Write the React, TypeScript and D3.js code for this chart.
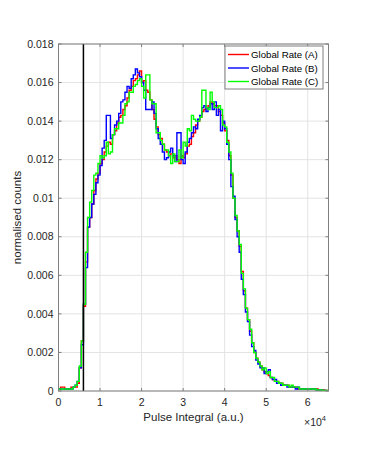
import React from "react";
import * as d3 from "d3";

const binWidth = 500;
const xMax = 65000;
const yMax = 0.018;
const thresholdX = 6000;
const seriesNames = ["Global Rate (A)", "Global Rate (B)", "Global Rate (C)"];
const seriesColors = ["#ff0000", "#0000ff", "#00ff00"];
const xTicks = [0, 1, 2, 3, 4, 5, 6];
const yTicks = [0, 0.002, 0.004, 0.006, 0.008, 0.01, 0.012, 0.014, 0.016, 0.018];
const yTickLabels = ["0", "0.002", "0.004", "0.006", "0.008", "0.01", "0.012", "0.014", "0.016", "0.018"];

const rateA = [
  0.0001, 0.0002, 0.0002, 0.0001, 0.0001, 0.0001, 0.0002, 0.0002, 0.0002, 0.0004,
  0.0012, 0.0026, 0.0044, 0.0067, 0.0085, 0.0090, 0.0097, 0.0104, 0.0110, 0.0113,
  0.0118, 0.0120, 0.0124, 0.0127, 0.0129, 0.0128, 0.0133, 0.0135, 0.0139, 0.0142,
  0.0143, 0.0146, 0.0148, 0.0152, 0.0156, 0.0158, 0.0161, 0.0162, 0.0164, 0.0166,
  0.0160, 0.0161, 0.0156, 0.0155, 0.0151, 0.0146, 0.0141, 0.0137, 0.0133, 0.0131,
  0.0128, 0.0125, 0.0124, 0.0122, 0.0123, 0.0121, 0.0122, 0.0120, 0.0118, 0.0122,
  0.0121, 0.0123, 0.0127, 0.0128, 0.0132, 0.0134, 0.0138, 0.0140, 0.0142, 0.0145,
  0.0146, 0.0147, 0.0148, 0.0150, 0.0149, 0.0148, 0.0148, 0.0145, 0.0143, 0.0139,
  0.0135, 0.0130, 0.0122, 0.0112, 0.0100, 0.0090, 0.0083, 0.0075, 0.0062, 0.0052,
  0.0043, 0.0037, 0.0031, 0.0025, 0.0020, 0.0017, 0.0015, 0.0013, 0.0011, 0.0010,
  0.0009, 0.0008, 0.0007, 0.0006, 0.0005, 0.0005, 0.0004, 0.0004, 0.0003, 0.0003,
  0.0003, 0.0002, 0.0002, 0.0002, 0.0002, 0.0001, 0.0001, 0.0001, 0.0001, 0.0001,
  0.0001, 0.0001, 0.0001, 0.0001, 0.0001, 0.00005, 0.00005, 0.00005, 0.00003, 0.00003,
];

const rateB = [
  0.0001, 0.0001, 0.0001, 0.0001, 0.0001, 0.0001, 0.0001, 0.0002, 0.0003, 0.0005,
  0.0012, 0.0024, 0.0045, 0.0064, 0.0085, 0.0090, 0.0097, 0.0102, 0.0108, 0.0112,
  0.0117, 0.0126, 0.0130, 0.0143, 0.0143, 0.0131, 0.0133, 0.0138, 0.0140, 0.0144,
  0.0150, 0.0151, 0.0155, 0.0158, 0.0157, 0.0162, 0.0164, 0.0167, 0.0165, 0.0163,
  0.0160, 0.0156, 0.0146, 0.0146, 0.0146, 0.0150, 0.0144, 0.0136, 0.0131, 0.0128,
  0.0124, 0.0120, 0.0121, 0.0124, 0.0126, 0.0122, 0.0119, 0.0134, 0.0134, 0.0120,
  0.0118, 0.0124, 0.0129, 0.0131, 0.0134, 0.0137, 0.0136, 0.0141, 0.0143, 0.0147,
  0.0148, 0.0145, 0.0147, 0.0149, 0.0146, 0.0150, 0.0143, 0.0146, 0.0135, 0.0140,
  0.0136, 0.0128, 0.0120, 0.0106, 0.0101, 0.0089, 0.0080, 0.0072, 0.0058, 0.0050,
  0.0041, 0.0036, 0.0029, 0.0023, 0.0021, 0.0016, 0.0014, 0.0012, 0.0012, 0.0009,
  0.0010, 0.0011, 0.0007, 0.0006, 0.0006, 0.0004, 0.0004, 0.0003, 0.0003, 0.0003,
  0.0002, 0.0002, 0.0002, 0.0002, 0.0001, 0.0002, 0.0001, 0.0001, 0.0001, 0.0001,
  0.0001, 0.0001, 0.0001, 0.0001, 0.00005, 0.00005, 0.00005, 0.00003, 0.00003, 0.00002,
];

const rateC = [
  0.0001, 0.0001, 0.0001, 0.0001, 0.0001, 0.0001, 0.0001, 0.0002, 0.0003, 0.0005,
  0.0013, 0.0026, 0.0045, 0.0072, 0.0090, 0.0098, 0.0104, 0.0112, 0.0113, 0.0118,
  0.0122, 0.0121, 0.0122, 0.0129, 0.0123, 0.0124, 0.0133, 0.0136, 0.0136, 0.0139,
  0.0139, 0.0143, 0.0149, 0.0150, 0.0155, 0.0155, 0.0158, 0.0159, 0.0161, 0.0162,
  0.0158, 0.0152, 0.0164, 0.0164, 0.0151, 0.0149, 0.0149, 0.0134, 0.0134, 0.0130,
  0.0128, 0.0125, 0.0125, 0.0122, 0.0118, 0.0123, 0.0119, 0.0119, 0.0125, 0.0121,
  0.0129, 0.0127, 0.0136, 0.0135, 0.0143, 0.0141, 0.0140, 0.0140, 0.0142, 0.0156,
  0.0156, 0.0147, 0.0146, 0.0155, 0.0150, 0.0147, 0.0147, 0.0148, 0.0146, 0.0138,
  0.0137, 0.0129, 0.0124, 0.0113, 0.0100, 0.0091, 0.0083, 0.0076, 0.0061, 0.0053,
  0.0043, 0.0037, 0.0032, 0.0025, 0.0020, 0.0017, 0.0015, 0.0013, 0.0011, 0.0012,
  0.0009, 0.0010, 0.0007, 0.0007, 0.0005, 0.0005, 0.0004, 0.0004, 0.0003, 0.0003,
  0.0003, 0.0002, 0.0003, 0.0002, 0.0002, 0.0002, 0.0001, 0.0001, 0.0001, 0.0001,
  0.0001, 0.0001, 0.0001, 0.0001, 0.00005, 0.00005, 0.00005, 0.00003, 0.00003, 0.00003,
];

const allSeries = [rateA, rateB, rateC];

const W = 373;
const H = 451;
const plotLeft = 58.5;
const plotRight = 328.5;
const plotTop = 44;
const plotBottom = 391;
const font = "'Liberation Sans', Arial, Helvetica, sans-serif";
const axisColor = "#7f7f7f";
const textColor = "#262626";
const gridColor = "#e3e3e3";
const tickLen = 3;

export default function App() {
  const x = d3.scaleLinear().domain([0, xMax]).range([plotLeft, plotRight]);
  const y = d3.scaleLinear().domain([0, yMax]).range([plotBottom, plotTop]);

  const line = d3
    .line<[number, number]>()
    .x((d) => x(d[0]))
    .y((d) => y(d[1]))
    .curve(d3.curveStepAfter);

  const paths = allSeries.map((vals) => {
    const pts: [number, number][] = vals.map((v, i) => [i * binWidth, v]);
    pts.push([vals.length * binWidth, vals[vals.length - 1]]);
    return line(pts) || "";
  });

  const legX = 225;
  const legY = 46;
  const legW = 98;
  const legH = 43;
  const rowH = 13.5;

  return (
    <svg
      width={W}
      height={H}
      style={{ position: "absolute", left: 0, top: 0, background: "#fff" }}
    >
      <rect x={0} y={0} width={W} height={H} fill="#fff" />
      <defs>
        <clipPath id="clipPlot">
          <rect x={plotLeft} y={plotTop} width={plotRight - plotLeft} height={plotBottom - plotTop} />
        </clipPath>
      </defs>
      {/* grid */}
      {xTicks.map((t) => (
        <line
          key={"gx" + t}
          x1={x(t * 10000)}
          x2={x(t * 10000)}
          y1={plotTop}
          y2={plotBottom}
          stroke={gridColor}
          strokeWidth={1}
        />
      ))}
      {yTicks.map((t) => (
        <line
          key={"gy" + t}
          x1={plotLeft}
          x2={plotRight}
          y1={y(t)}
          y2={y(t)}
          stroke={gridColor}
          strokeWidth={1}
        />
      ))}
      {/* series */}
      <g clipPath="url(#clipPlot)">
        {paths.map((p, i) => (
          <path key={i} d={p} fill="none" stroke={seriesColors[i]} strokeWidth={1.4} strokeLinejoin="miter" />
        ))}
        <line
          x1={x(thresholdX)}
          x2={x(thresholdX)}
          y1={y(0)}
          y2={y(yMax)}
          stroke="#000"
          strokeWidth={1.5}
        />
      </g>
      {/* axes box */}
      <rect
        x={plotLeft}
        y={plotTop}
        width={plotRight - plotLeft}
        height={plotBottom - plotTop}
        fill="none"
        stroke={axisColor}
        strokeWidth={1}
      />
      {xTicks.map((t) => (
        <g key={"tx" + t}>
          <line x1={x(t * 10000)} x2={x(t * 10000)} y1={plotBottom} y2={plotBottom - tickLen} stroke={axisColor} />
          <line x1={x(t * 10000)} x2={x(t * 10000)} y1={plotTop} y2={plotTop + tickLen} stroke={axisColor} />
          <text
            x={x(t * 10000)}
            y={plotBottom + 14.5}
            textAnchor="middle"
            fontFamily={font}
            fontSize={10.5}
            fill={textColor}
          >
            {t}
          </text>
        </g>
      ))}
      {yTicks.map((t, i) => (
        <g key={"ty" + t}>
          <line x1={plotLeft} x2={plotLeft + tickLen} y1={y(t)} y2={y(t)} stroke={axisColor} />
          <line x1={plotRight} x2={plotRight - tickLen} y1={y(t)} y2={y(t)} stroke={axisColor} />
          <text
            x={plotLeft - 5}
            y={y(t) + 3.7}
            textAnchor="end"
            fontFamily={font}
            fontSize={10.5}
            fill={textColor}
          >
            {yTickLabels[i]}
          </text>
        </g>
      ))}
      {/* axis labels */}
      <text
        x={(plotLeft + plotRight) / 2}
        y={421}
        textAnchor="middle"
        fontFamily={font}
        fontSize={11.5}
        fill={textColor}
      >
        Pulse Integral (a.u.)
      </text>
      <text x={304} y={425.5} fontFamily={font} fontSize={10.5} fill={textColor}>
        ×10
        <tspan dy={-5} fontSize={7.5}>
          4
        </tspan>
      </text>
      <text
        transform={`translate(21, ${(plotTop + plotBottom) / 2}) rotate(-90)`}
        textAnchor="middle"
        fontFamily={font}
        fontSize={11.5}
        fill={textColor}
      >
        normalised counts
      </text>
      {/* legend */}
      <rect x={legX} y={legY} width={legW} height={legH} fill="#fff" stroke={axisColor} strokeWidth={1} />
      {seriesNames.map((name, i) => (
        <g key={name}>
          <line
            x1={legX + 3}
            x2={legX + 24}
            y1={legY + 8.5 + i * rowH}
            y2={legY + 8.5 + i * rowH}
            stroke={seriesColors[i]}
            strokeWidth={1.4}
          />
          <text
            x={legX + 26}
            y={legY + 12 + i * rowH}
            fontFamily={font}
            fontSize={9.7}
            fill="#000"
          >
            {name}
          </text>
        </g>
      ))}
    </svg>
  );
}
